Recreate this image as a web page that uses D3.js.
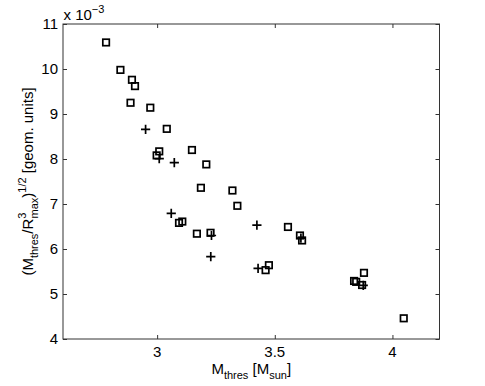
<!DOCTYPE html>
<html><head><meta charset="utf-8">
<script src="https://cdn.jsdelivr.net/npm/d3@7"></script>
<style>body{margin:0;background:#fff}svg{display:block}text{font-family:"Liberation Sans",Arial,sans-serif;fill:#000}</style>
</head><body><div id="c"></div>
<script>
// values of y in units of 1e-3
const squareX = [2.783, 2.844, 2.893, 2.906, 2.887, 2.971, 3.041, 3.009, 2.998, 3.148, 3.209, 3.186, 3.320, 3.341, 3.556, 3.607, 3.616, 3.093, 3.107, 3.169, 3.227, 3.461, 3.475, 3.879, 3.837, 3.846, 3.871, 4.048];
const squareY = [10.59, 9.98, 9.76, 9.62, 9.25, 9.14, 8.67, 8.17, 8.08, 8.20, 7.88, 7.36, 7.30, 6.96, 6.49, 6.30, 6.19, 6.58, 6.61, 6.34, 6.36, 5.53, 5.64, 5.47, 5.29, 5.27, 5.20, 4.46];
const plusX = [2.951, 3.009, 3.073, 3.060, 3.231, 3.228, 3.424, 3.429, 3.611, 3.876];
const plusY = [8.66, 8.01, 7.92, 6.79, 6.30, 5.83, 6.53, 5.57, 6.24, 5.19];
const xTicks = [3, 3.5, 4];
const yTicks = [4, 5, 6, 7, 8, 9, 10, 11];
const xDomain = [2.6, 4.2];
const yDomain = [4, 11];

const W = 485, H = 386;
const L = 63, R = 439.5, T = 24, B = 339;
const svg = d3.select("#c").append("svg").attr("width", W).attr("height", H);
const x = d3.scaleLinear().domain(xDomain).range([L, R]);
const y = d3.scaleLinear().domain(yDomain).range([B, T]);
const axisColor = "#333";
const fs = 15;

// axes
const gx = svg.append("g").attr("transform", `translate(0,${B})`)
  .call(d3.axisTop(x).tickValues(xTicks).tickSize(4).tickFormat(""));
const gxt = svg.append("g").attr("transform", `translate(0,${T})`)
  .call(d3.axisBottom(x).tickValues(xTicks).tickSize(4).tickFormat(""));
const gy = svg.append("g").attr("transform", `translate(${L},0)`)
  .call(d3.axisRight(y).tickValues(yTicks).tickSize(4).tickFormat(""));
const gyr = svg.append("g").attr("transform", `translate(${R},0)`)
  .call(d3.axisLeft(y).tickValues(yTicks).tickSize(4).tickFormat(""));
[gx, gxt, gy, gyr].forEach(g => { g.select(".domain").remove(); g.selectAll("line").attr("stroke", axisColor); });
svg.append("rect").attr("x", L).attr("y", T).attr("width", R - L).attr("height", B - T)
  .attr("fill", "none").attr("stroke", axisColor).attr("stroke-width", 1);

// tick labels
svg.append("g").selectAll("text").data(xTicks).join("text")
  .attr("x", d => x(d)).attr("y", B + 18).attr("text-anchor", "middle")
  .attr("font-size", fs).text(d => d);
svg.append("g").selectAll("text").data(yTicks).join("text")
  .attr("x", L - 5).attr("y", d => y(d) + 5.3).attr("text-anchor", "end")
  .attr("font-size", fs).text(d => d);

// multiplier
const mult = svg.append("text").attr("x", L + 0.5).attr("y", 20).attr("font-size", fs);
mult.append("tspan").text("x 10");
mult.append("tspan").attr("font-size", 11).attr("dy", -7).text("−3");

// x label
const xl = svg.append("text").attr("x", (L + R) / 2).attr("y", 374).attr("text-anchor", "middle").attr("font-size", fs);
xl.append("tspan").text("M");
xl.append("tspan").attr("font-size", 11).attr("dy", 5).text("thres");
xl.append("tspan").attr("dy", -5).text(" [M");
xl.append("tspan").attr("font-size", 11).attr("dy", 5).text("sun");
xl.append("tspan").attr("dy", -5).text("]");

// y label
const yl = svg.append("text").attr("transform", `translate(33,${(T + B) / 2}) rotate(-90)`)
  .attr("text-anchor", "middle").attr("font-size", fs);
yl.append("tspan").text("(M");
yl.append("tspan").attr("font-size", 11).attr("dy", 5).text("thres");
yl.append("tspan").attr("dy", -5).text("/R");
yl.append("tspan").attr("font-size", 11).attr("dy", -7).text("3");
yl.append("tspan").attr("font-size", 11).attr("dx", -6).attr("dy", 12).text("max");
yl.append("tspan").attr("dy", -5).text(")");
yl.append("tspan").attr("font-size", 11).attr("dy", -7).text("1/2");
yl.append("tspan").attr("dy", 7).text(" [geom. units]");

// markers
const sq = squareX.map((v, i) => [v, squareY[i]]);
const pl = plusX.map((v, i) => [v, plusY[i]]);
const s = 6.5;
svg.append("g").selectAll("rect").data(sq).join("rect")
  .attr("x", d => x(d[0]) - s / 2).attr("y", d => y(d[1]) - s / 2)
  .attr("width", s).attr("height", s)
  .attr("fill", "none").attr("stroke", "#000").attr("stroke-width", 1.7);
const h = 4.6;
svg.append("g").selectAll("path").data(pl).join("path")
  .attr("d", d => `M${x(d[0]) - h},${y(d[1])}H${x(d[0]) + h}M${x(d[0])},${y(d[1]) - h}V${y(d[1]) + h}`)
  .attr("stroke", "#000").attr("stroke-width", 1.7).attr("fill", "none");
</script></body></html>
